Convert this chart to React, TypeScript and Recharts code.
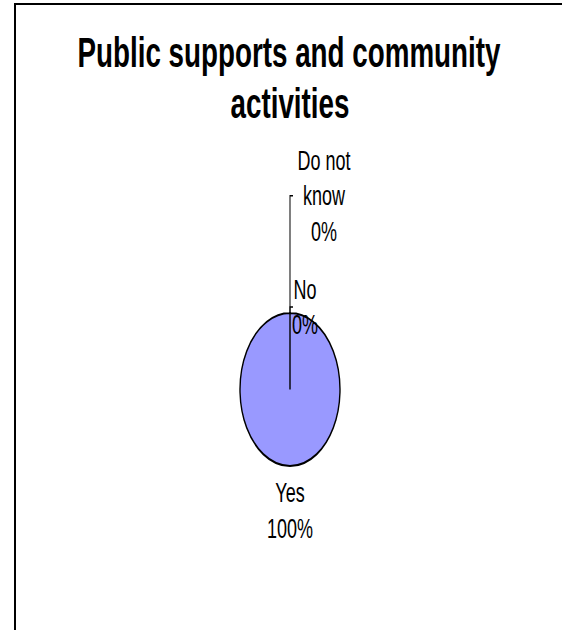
import { PieChart, Pie, Cell } from 'recharts'

const categories = ['Yes', 'No', 'Do not know']
const values = [100, 0, 0]
const titleLines = ['Public supports and community', 'activities']

const W = 562
const H = 630
// the source chart was stretched vertically, so draw it flat and scale it up
const STRETCH = 1.53
const FONT = '"Liberation Sans", Arial, sans-serif'
const SLICE_FILL = '#9999FF'

// where each data label sits: extra distance past the rim, then a sideways shift
const labelPlacement = [
  { dist: 29, dx: 0 },
  { dist: 4, dx: 15 },
  { dist: 76.6, dx: 34 },
]
const LABEL_SIZE = 18
const LINE_GAP = 23

const data = categories.map((name, i) => ({ name, value: values[i] }))

const RAD = Math.PI / 180

// naive word wrap, roughly what Excel does in a narrow label box
function wrap(text: string, maxChars = 7) {
  const lines: string[] = []
  let cur = ''
  for (const word of text.split(' ')) {
    const next = cur ? cur + ' ' + word : word
    if (next.length > maxChars && cur) {
      lines.push(cur)
      cur = word
    } else {
      cur = next
    }
  }
  if (cur) lines.push(cur)
  return lines
}

function polar(cx: number, cy: number, r: number, angle: number) {
  return { x: cx + r * Math.cos(-angle * RAD), y: cy + r * Math.sin(-angle * RAD) }
}

function labelCenter(p: any) {
  const place = labelPlacement[p.index]
  const pt = polar(p.cx, p.cy, p.outerRadius + place.dist, p.midAngle)
  return { x: pt.x + place.dx, y: pt.y }
}

const renderLabel = (p: any) => {
  const c = labelCenter(p)
  const name = p.name ?? p.payload?.name
  const lines = [...wrap(name), `${Math.round(p.percent * 100)}%`]
  const top = c.y - ((lines.length - 1) * LINE_GAP) / 2
  return (
    <text x={c.x} textAnchor="middle" fontFamily={FONT} fontSize={LABEL_SIZE} fill="#000">
      {lines.map((l, i) => (
        <tspan key={i} x={c.x} y={top + i * LINE_GAP + LABEL_SIZE * 0.35}>
          {l}
        </tspan>
      ))}
    </text>
  )
}

const renderLabelLine = (p: any) => {
  // the big slice has its label close enough that Excel drops the leader
  if (p.value > 0) return <g />
  const start = polar(p.cx, p.cy, p.outerRadius, p.midAngle)
  const c = labelCenter(p)
  return (
    <path
      d={`M${start.x},${start.y} L${start.x},${c.y} L${start.x + 3},${c.y}`}
      fill="none"
      stroke="#000"
      strokeWidth={1}
    />
  )
}

export default function App() {
  return (
    <div
      style={{
        position: 'absolute',
        left: 0,
        top: 0,
        width: W,
        height: H,
        overflow: 'hidden',
        background: '#fff',
      }}
    >
      {/* chart frame, cut off at the right and bottom in the original */}
      <div
        style={{
          position: 'absolute',
          left: 14,
          top: 3,
          width: 620,
          height: 720,
          border: '2px solid #000',
        }}
      />
      <div
        style={{
          position: 'absolute',
          left: 0,
          top: 0,
          transform: `scaleY(${STRETCH})`,
          transformOrigin: 'top left',
        }}
      >
        <PieChart width={W} height={H / STRETCH} margin={{ top: 0, right: 0, bottom: 0, left: 0 }}>
          <text
            x={289}
            textAnchor="middle"
            fontFamily={FONT}
            fontWeight="bold"
            fontSize={27.8}
            fill="#000"
          >
            <tspan x={289} y={43.6}>{titleLines[0]}</tspan>
            <tspan x={290} y={76.9}>{titleLines[1]}</tspan>
          </text>
          <Pie
            data={data}
            dataKey="value"
            nameKey="name"
            cx={290}
            cy={254.6}
            outerRadius={50}
            startAngle={90}
            endAngle={-270}
            stroke="#000"
            strokeWidth={1.4}
            label={renderLabel}
            labelLine={renderLabelLine}
            isAnimationActive={false}
          >
            {data.map((d) => (
              <Cell key={d.name} fill={SLICE_FILL} />
            ))}
          </Pie>
        </PieChart>
      </div>
    </div>
  )
}
